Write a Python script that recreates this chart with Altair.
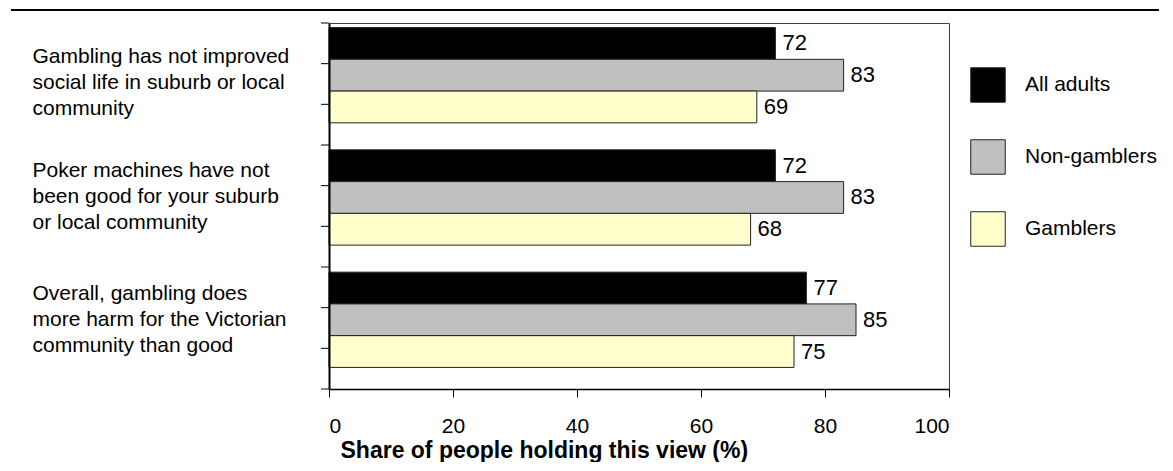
import altair as alt
import pandas as pd

FONT = "Liberation Sans"

# ---- data ----
questions = [
    "Gambling has not improved|social life in suburb or local|community",
    "Poker machines have not|been good for your suburb|or local community",
    "Overall, gambling does|more harm for the Victorian|community than good",
]
series = ["All adults", "Non-gamblers", "Gamblers"]
colors = ["#000000", "#c0c0c0", "#ffffcc"]
all_adults = [72, 72, 77]
non_gamblers = [83, 83, 85]
gamblers = [69, 68, 75]
x_ticks = [0, 20, 40, 60, 80, 100]
y_tick_marks = list(range(10))  # Excel-style ticks along the category axis

rows = []
for i, q in enumerate(questions):
    for s, vals in zip(series, [all_adults, non_gamblers, gamblers]):
        rows.append({"question": q, "series": s, "value": vals[i]})
df = pd.DataFrame(rows)
ticks_df = pd.DataFrame({"t": y_tick_marks})
line_df = pd.DataFrame({"k": [0]})

y_enc = alt.Y(
    "question:N",
    sort=questions,
    scale=alt.Scale(paddingInner=0.221, paddingOuter=0.107, align=0.175),
    axis=alt.Axis(
        title=None,
        ticks=False,
        tickSize=0,
        domain=True,
        domainColor="#000000",
        domainWidth=2,
        zindex=2,
        labelAlign="left",
        labelBaseline="middle",
        labelPadding=297,
        labelOffset={"condition": {"test": "indexof(datum.value, 'Gambling') == 0", "value": -18}, "value": -26},
        labelFont=FONT,
        labelFontSize=21,
        labelColor="#000000",
        labelLineHeight=26,
        labelLimit=400,
        labelExpr="split(datum.label, '|')",
    ),
)
yoff_enc = alt.YOffset("series:N", sort=series, scale=alt.Scale(paddingInner=0, paddingOuter=0))
x_enc = alt.X(
    "value:Q",
    scale=alt.Scale(domain=[0, 100], nice=False),
    axis=alt.Axis(
        values=x_ticks,
        grid=False,
        zindex=2,
        domainColor="#000000",
        domainWidth=1.5,
        tickColor="#000000",
        tickSize=8,
        labelFont=FONT,
        labelFontSize=21,
        labelColor="#000000",
        labelPadding=18,
        title="Share of people holding this view (%)",
        titleFont=FONT,
        titleFontSize=23,
        titleFontWeight="bold",
        titleColor="#000000",
        titleAnchor="start",
        titleAlign="left",
        titleX=11,
        titleY=61,
        titleBaseline="middle",
    ),
)

bars = alt.Chart(df).mark_bar(stroke="#222222", strokeWidth=1).encode(
    x=x_enc,
    y=y_enc,
    yOffset=yoff_enc,
    fill=alt.Fill(
        "series:N",
        sort=series,
        scale=alt.Scale(domain=series, range=colors),
        legend=alt.Legend(
            title=None,
            orient="none",
            legendX=641,
            legendY=44,
            padding=0,
            symbolType="square",
            symbolSize=1190,
            symbolStrokeColor="#222222",
            symbolStrokeWidth=1,
            rowPadding=32,
            labelOffset=19,
            labelFont=FONT,
            labelFontSize=21,
            labelColor="#000000",
        ),
    ),
)

text = alt.Chart(df).mark_text(
    align="left", baseline="middle", dx=7, font=FONT, fontSize=22, color="#000000"
).encode(
    x=alt.X("value:Q"),
    y=alt.Y("question:N", sort=questions),
    yOffset=alt.YOffset("series:N", sort=series),
    text=alt.Text("value:Q", format=".0f"),
)

tickmarks = alt.Chart(ticks_df).mark_rule(color="#000000", strokeWidth=1).encode(
    y=alt.Y("t:Q", scale=alt.Scale(domain=[0, 9], nice=False, zero=False), axis=None),
    x=alt.value(-8),
    x2=alt.value(0),
)

top_line = alt.Chart(line_df).mark_rule(color="#000000", strokeWidth=2).encode(
    x=alt.value(-318),
    x2=alt.value(844),
    y=alt.value(-13),
)

chart = (
    alt.layer(alt.layer(bars, text), tickmarks, top_line)
    .resolve_scale(y="independent")
    .properties(
        width=620,
        height=366,
        autosize=alt.AutoSizeParams(type="none"),
        padding={"left": 321, "top": 15, "right": 210, "bottom": 73},
        background="#ffffff",
    )
    .configure_view(stroke="#404040", strokeWidth=1)
)

chart.save("out.html", embed_options={"renderer": "svg", "actions": False})
